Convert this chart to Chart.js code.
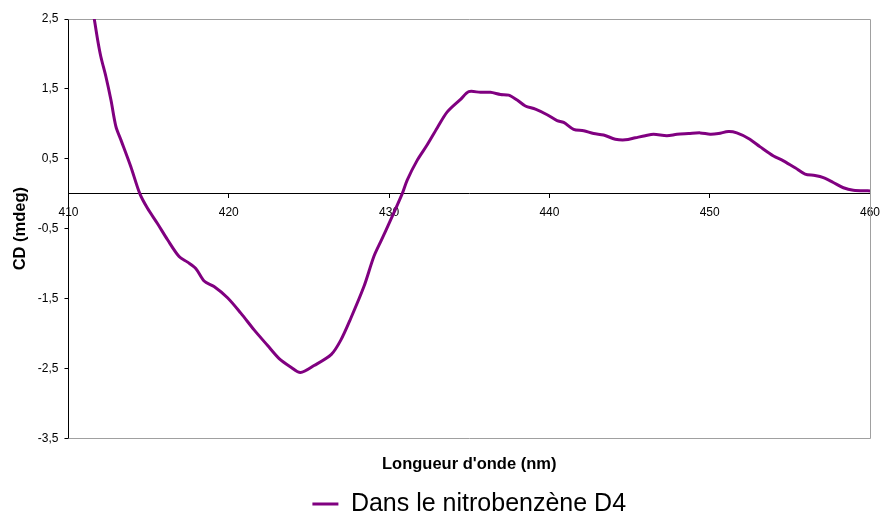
<!DOCTYPE html>
<html>
<head>
<meta charset="utf-8">
<script src="https://cdn.jsdelivr.net/npm/chart.js@4"></script>
<style>
  body { margin: 0; background: #fff; }
  #wrap { width: 884px; height: 515px; }
</style>
</head>
<body>
<div id="wrap"><canvas id="cdChart"></canvas></div>
<script>
    // values
    const wavelength = [411.3, 411.61, 411.82, 412.02, 412.34, 412.65, 412.96, 413.27, 413.89, 414.45,
      414.93, 415.56, 416.18, 416.9, 417.43, 417.94, 418.46, 419.08, 419.92, 420.75,
      421.58, 422.41, 423.14, 423.86, 424.47, 425.32, 426.4, 426.98, 427.6, 428.43,
      429.05, 429.47, 430.09, 430.82, 431.13, 431.76, 432.38, 433.0, 433.63, 434.46,
      434.97, 435.7, 436.32, 436.95, 437.46, 437.99, 438.5, 439.13, 439.86, 440.48,
      440.89, 441.51, 442.14, 442.76, 443.38, 444.11, 444.74, 445.36, 445.98, 446.5,
      447.33, 447.96, 448.68, 449.41, 450.03, 450.55, 451.17, 451.69, 452.42, 453.15,
      453.98, 454.6, 455.33, 455.95, 456.57, 457.09, 457.71, 458.34, 458.96, 459.9, 460];
    const cd = [2.95, 2.50, 2.20, 1.96, 1.67, 1.34, 0.96, 0.77, 0.385, 0.0,
      -0.21, -0.43, -0.66, -0.90, -0.98, -1.07, -1.25, -1.33, -1.49, -1.71,
      -1.95, -2.17, -2.36, -2.48, -2.56, -2.46, -2.30, -2.10, -1.79, -1.33,
      -0.90, -0.69, -0.38, 0.0, 0.195, 0.48, 0.70, 0.94, 1.17, 1.35,
      1.46, 1.45, 1.45, 1.42, 1.41, 1.34, 1.255, 1.21, 1.13, 1.045,
      1.02, 0.92, 0.90, 0.86, 0.84, 0.78, 0.77, 0.80, 0.83, 0.85,
      0.83, 0.85, 0.86, 0.87, 0.85, 0.86, 0.89, 0.87, 0.79, 0.67,
      0.54, 0.47, 0.37, 0.28, 0.26, 0.23, 0.16, 0.085, 0.05, 0.04, 0.04];
    const xTicks = [410, 420, 430, 440, 450, 460];
    const yTicks = [-3.5, -2.5, -1.5, -0.5, 0.5, 1.5, 2.5];
    const seriesName = "Dans le nitrobenzène D4";

    const purple = "#800080";
    const font = "Arial, 'Liberation Sans', sans-serif";

    // gray frame on top, right and bottom of the plot area
    const frame = {
      id: "frame",
      beforeDatasetsDraw(chart) {
        const a = chart.chartArea;
        const ctx = chart.ctx;
        ctx.save();
        ctx.strokeStyle = "#a0a0a0";
        ctx.lineWidth = 1;
        ctx.beginPath();
        ctx.moveTo(a.left, Math.round(a.top) + 0.5);
        ctx.lineTo(Math.round(a.right) + 0.5, Math.round(a.top) + 0.5);
        ctx.lineTo(Math.round(a.right) + 0.5, Math.round(a.bottom) + 0.5);
        ctx.lineTo(a.left, Math.round(a.bottom) + 0.5);
        ctx.stroke();
        ctx.restore();
      }
    };

    new Chart(document.getElementById("cdChart"), {
      type: "line",
      data: {
        datasets: [{
          label: seriesName,
          data: wavelength.map((w, i) => ({ x: w, y: cd[i] })),
          borderColor: purple,
          backgroundColor: purple,
          borderWidth: 3,
          pointRadius: 0,
          tension: 0.3
        }]
      },
      plugins: [frame],
      options: {
        responsive: true,
        maintainAspectRatio: false,
        animation: false,
        layout: { padding: { left: 11, right: 14, top: 19, bottom: -11.5 } },
        scales: {
          x: {
            type: "linear",
            position: { y: 0 },
            min: 410,
            max: 460,
            afterBuildTicks: s => { s.ticks = xTicks.map(v => ({ value: v })); },
            afterFit: s => { s.paddingLeft = 0; s.paddingRight = 0; },
            ticks: { color: "#000", font: { family: font, size: 12 }, padding: 7.5, maxRotation: 0 },
            grid: { drawOnChartArea: false, tickLength: 4, color: "#000" },
            border: { color: "#000" }
          },
          xTitle: {
            type: "linear",
            position: "bottom",
            axis: "x",
            min: 410,
            max: 460,
            ticks: { display: false },
            grid: { display: false },
            border: { display: false },
            title: {
              display: true,
              text: "Longueur d'onde (nm)",
              color: "#000",
              font: { family: font, size: 16.5, weight: "bold" },
              padding: { top: 8, bottom: 17.5 }
            }
          },
          y: {
            type: "linear",
            min: -3.5,
            max: 2.5,
            afterBuildTicks: s => { s.ticks = yTicks.map(v => ({ value: v })); },
            ticks: {
              color: "#000",
              font: { family: font, size: 12 },
              padding: 6,
              callback: v => String(v).replace(".", ",")
            },
            grid: { drawOnChartArea: false, tickLength: 4, color: "#000" },
            border: { color: "#000" },
            title: {
              display: true,
              text: "CD (mdeg)",
              color: "#000",
              font: { family: font, size: 16.5, weight: "bold" },
              padding: { top: 0, bottom: 1 }
            }
          }
        },
        plugins: {
          tooltip: { enabled: false },
          legend: {
            position: "bottom",
            fullSize: false,
            labels: {
              color: "#000",
              font: { family: font, size: 25 },
              boxWidth: 26,
              boxHeight: 3,
              padding: 0,
              generateLabels: chart => Chart.defaults.plugins.legend.labels.generateLabels(chart)
                .map(l => Object.assign(l, { lineWidth: 0 }))
            }
          }
        }
      }
    });
</script>
</body>
</html>
